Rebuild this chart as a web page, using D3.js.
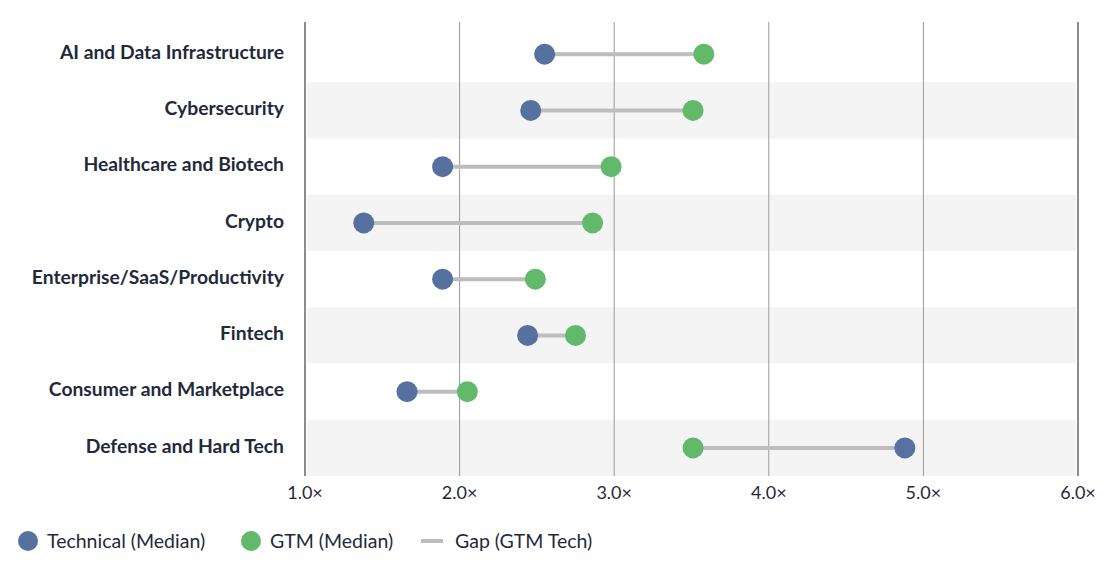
<!DOCTYPE html>
<html lang="en">
<head>
<meta charset="UTF-8">
<title>dumbbell</title>
<script src="https://d3js.org/d3.v7.min.js"></script>
<style>
  body { margin: 0; background: #fff; }
  text { font-family: "Source Sans Pro", Lato, "Open Sans", sans-serif; }
  .cat { font-weight: 700; font-size: 19.3px; fill: #1f2a3a; }
  .tick-lbl { font-size: 18px; fill: #1f2a3a; }
  .leg { font-size: 19.5px; fill: #1f2a3a; }
</style>
</head>
<body>
<svg id="chart" width="1120" height="577"></svg>
<script>
  let categories = ["AI and Data Infrastructure", "Cybersecurity", "Healthcare and Biotech", "Crypto",
    "Enterprise/SaaS/Productivity", "Fintech", "Consumer and Marketplace", "Defense and Hard Tech"];
  let technical = [2.55, 2.46, 1.89, 1.38, 1.89, 2.44, 1.66, 4.88];
  let gtm = [3.58, 3.51, 2.98, 2.86, 2.49, 2.75, 2.05, 3.51];
  let ticks = [1, 2, 3, 4, 5, 6];

  let blue = "#56709f", green = "#62b96a", gray = "#bdbdbd";

  let svg = d3.select("#chart");
  let plotLeft = 305, plotRight = 1078, plotTop = 26, plotBottom = 476;

  let x = d3.scaleLinear().domain([1, 6]).range([plotLeft, plotRight]);
  let y = d3.scaleBand().domain(categories).range([plotTop, plotBottom]);

  // alternating bands
  svg.append("g").selectAll("rect")
    .data(categories.filter((d, i) => i % 2 === 1))
    .join("rect")
    .attr("x", plotLeft + 2)
    .attr("width", plotRight - plotLeft - 4)
    .attr("y", d => y(d))
    .attr("height", y.bandwidth())
    .attr("fill", "#f4f4f4");

  // grid lines
  svg.append("g").selectAll("line")
    .data(ticks)
    .join("line")
    .attr("x1", d => x(d)).attr("x2", d => x(d))
    .attr("y1", 22).attr("y2", plotBottom)
    .attr("stroke", d => (d === 1 || d === 6) ? "#666" : "#999")
    .attr("stroke-width", d => (d === 1 || d === 6) ? 1.5 : 1);

  // tick labels
  svg.append("g").selectAll("text")
    .data(ticks)
    .join("text")
    .attr("class", "tick-lbl")
    .attr("x", d => x(d))
    .attr("y", 493)
    .attr("dy", "0.35em")
    .attr("text-anchor", "middle")
    .text(d => d3.format(".1f")(d) + "×");

  // category labels
  svg.append("g").selectAll("text")
    .data(categories)
    .join("text")
    .attr("class", "cat")
    .attr("x", 284)
    .attr("y", d => y(d) + y.bandwidth() / 2 - 2)
    .attr("dy", "0.35em")
    .attr("text-anchor", "end")
    .text(d => d);

  let cy = d => y(d) + y.bandwidth() / 2;

  // gap lines
  svg.append("g").selectAll("line")
    .data(categories)
    .join("line")
    .attr("x1", (d, i) => x(technical[i]))
    .attr("x2", (d, i) => x(gtm[i]))
    .attr("y1", cy).attr("y2", cy)
    .attr("stroke", gray)
    .attr("stroke-width", 4);

  // dots
  svg.append("g").selectAll("circle")
    .data(categories)
    .join("circle")
    .attr("cx", (d, i) => x(technical[i]))
    .attr("cy", cy)
    .attr("r", 10.5)
    .attr("fill", blue);

  svg.append("g").selectAll("circle")
    .data(categories)
    .join("circle")
    .attr("cx", (d, i) => x(gtm[i]))
    .attr("cy", cy)
    .attr("r", 10.5)
    .attr("fill", green);

  // legend
  let leg = svg.append("g");
  let ly = 541;
  leg.append("circle").attr("cx", 28).attr("cy", ly).attr("r", 10).attr("fill", blue);
  leg.append("text").attr("class", "leg").attr("x", 47).attr("y", ly).attr("dy", "0.35em").text("Technical (Median)");
  leg.append("circle").attr("cx", 251).attr("cy", ly).attr("r", 10).attr("fill", green);
  leg.append("text").attr("class", "leg").attr("x", 270).attr("y", ly).attr("dy", "0.35em").text("GTM (Median)");
  leg.append("line").attr("x1", 421).attr("x2", 443).attr("y1", ly).attr("y2", ly)
    .attr("stroke", gray).attr("stroke-width", 4);
  leg.append("text").attr("class", "leg").attr("x", 455).attr("y", ly).attr("dy", "0.35em").text("Gap (GTM Tech)");
</script>
</body>
</html>
